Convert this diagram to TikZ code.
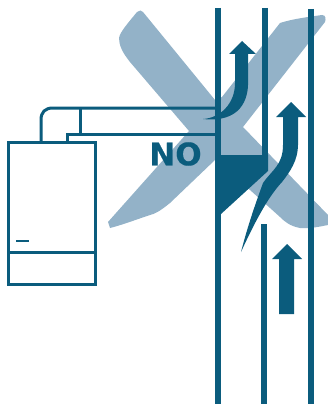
\documentclass[tikz,border=0pt]{standalone}
\usepackage{fontspec}
\setmainfont{DejaVu Sans}
\newfontfamily\nofont[FakeBold=0.5]{DejaVu Sans Bold}
\definecolor{tealdark}{HTML}{0B5C7D}
\definecolor{xlight}{HTML}{93B2C8}
\tikzset{
  x=1pt,y=-1pt,
  wall/.style={draw=tealdark,line width=6.6pt},
  thin wall/.style={draw=tealdark,line width=3pt},
  solid fill/.style={fill=tealdark,draw=none},
  cross/.style={fill=xlight,draw=none},
  label text/.style={text=tealdark,font=\nofont\fontsize{31}{31}\selectfont,inner sep=0pt,anchor=center}
}
\begin{document}
\begin{tikzpicture}
\useasboundingbox (0,0) rectangle (328,404);
% cross
\path[cross] (137,12) .. controls (139,10) and (142,10) .. (143,12)
  -- (215,100) -- (222,97) -- (280,23)
  .. controls (292,19) and (308,17) .. (322,15)
  .. controls (326,15) and (326,19) .. (325,22)
  -- (243,127) -- (328,215) -- (328,225)
  .. controls (318,227) and (308,229) .. (300,228)
  .. controls (290,226) and (285,222) .. (280,217)
  -- (250,190) -- (215,160) -- (170,203)
  .. controls (160,211) and (155,214) .. (150,215)
  .. controls (135,220) and (122,225) .. (110,228)
  -- (108,222) -- (189,131)
  -- (130,62) .. controls (122,52) and (119,45) .. (119,38)
  .. controls (120,32) and (128,23) .. (137,12) -- cycle;
% walls
\draw[wall] (218,8) -- (218,404);
\draw[wall] (265,8) -- (265,156);
\draw[wall] (264,224) -- (264,404);
\draw[wall] (311,9) -- (311,404);
% wedge
\path[solid fill] (215,155) -- (268,155) -- (268,171) -- (221,214) -- (215,214) -- cycle;
% boiler and flue
\draw[thin wall] (8.5,142.5) rectangle (95.5,284);
\draw[thin wall] (8.5,252) -- (95.5,252);
\draw[draw=tealdark,line width=2.6pt] (16,241) -- (29,241);
\draw[thin wall] (41,142) -- (41,120) .. controls (41,112) and (45,108) .. (53,108) -- (218,108);
\draw[thin wall] (67.5,142) -- (67.5,134.5) -- (218,134.5);
\draw[thin wall] (80,108) -- (80,134.5);
% arrows
\path[solid fill] (242,41) -- (256,54) -- (248,54) -- (248,80)
  .. controls (249,100) and (240,123) .. (203,119)
  .. controls (220,118) and (235,104) .. (235,83)
  -- (235,54) -- (229,54) -- cycle;
\path[solid fill] (291,102) -- (306,117) -- (298,117) -- (298,145)
  .. controls (298,160) and (290,172) .. (282,182)
  .. controls (270,195) and (258,215) .. (241,252)
  .. controls (248,225) and (255,205) .. (263,183)
  .. controls (272,170) and (283,165) .. (283,145)
  -- (283,117) -- (276,117) -- cycle;
\path[solid fill] (287,244) -- (302,259) -- (294,259) -- (294,314) -- (279,314) -- (279,259) -- (272,259) -- cycle;
\node[label text] (no) at (175.5,154) {NO};
\end{tikzpicture}
\end{document}
